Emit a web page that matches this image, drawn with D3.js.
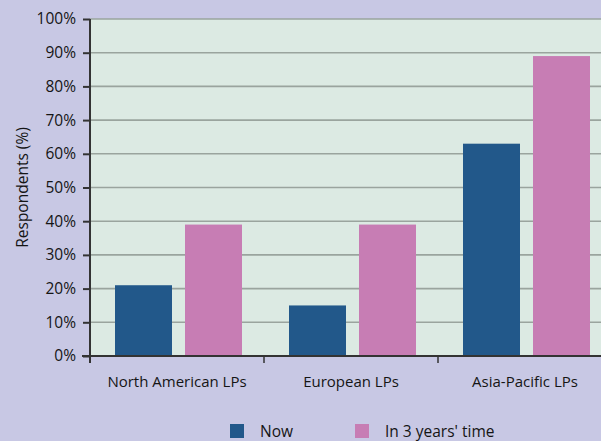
<!DOCTYPE html>
<html>
<head>
<meta charset="utf-8">
<script src="https://cdn.jsdelivr.net/npm/d3@7"></script>
<style>
  html, body { margin: 0; padding: 0; background: #C8C8E4; overflow: hidden; }
  svg { display: block; }
  text { font-family: "Open Sans", sans-serif; fill: #151515; }
</style>
</head>
<body>
<svg id="chart" width="601" height="441"></svg>
<script>
// Share of LPs, now and expected in three years
const categories = ["North American LPs", "European LPs", "Asia-Pacific LPs"];
const seriesNames = ["Now", "In 3 years' time"];
const nowValues = [21, 15, 63];
const futureValues = [39, 39, 89];
const yTicks = [0, 10, 20, 30, 40, 50, 60, 70, 80, 90, 100];
const colors = ["#22588A", "#C77DB4"];

const svg = d3.select("#chart");
const m = { left: 90, top: 19, bottom: 356, right: 612 };
const FONT = "'Open Sans', sans-serif";

const x = d3.scaleBand().domain(categories).range([m.left, m.right]);
// two bars per category, 57px wide with a 13px gap
const xs = d3.scaleBand().domain(seriesNames).range([25, 152]).paddingInner(13 / 70);
const y = d3.scaleLinear().domain([0, 100]).range([m.bottom, m.top]);

// plot background
svg.append("rect")
  .attr("x", m.left).attr("y", m.top)
  .attr("width", m.right - m.left).attr("height", m.bottom - m.top)
  .attr("fill", "#DCEAE3");

// horizontal gridlines
svg.append("g").selectAll("line")
  .data(yTicks.filter(d => d > 0))
  .join("line")
  .attr("x1", m.left).attr("x2", m.right)
  .attr("y1", d => y(d)).attr("y2", d => y(d))
  .attr("stroke", "#9AA49E").attr("stroke-width", 1.6);

// bars
const series = [nowValues, futureValues];
const groups = svg.append("g").selectAll("g")
  .data(categories)
  .join("g")
  .attr("transform", d => `translate(${x(d)},0)`);

groups.selectAll("rect")
  .data((c, i) => seriesNames.map((s, k) => ({ s, v: series[k][i], k })))
  .join("rect")
  .attr("x", d => xs(d.s))
  .attr("width", xs.bandwidth())
  .attr("y", d => y(d.v))
  .attr("height", d => y(0) - y(d.v))
  .attr("fill", d => colors[d.k]);

// y axis
const yAxis = d3.axisLeft(y)
  .tickValues(yTicks)
  .tickFormat(d => d + "%")
  .tickSize(7)
  .tickPadding(7);
const gy = svg.append("g").attr("transform", `translate(${m.left},0)`).call(yAxis);
gy.select(".domain").remove();
gy.selectAll(".tick line").attr("stroke", "#333").attr("stroke-width", 2);
gy.selectAll(".tick text").attr("font-size", 15.5).style("fill", "#151515")
  .style("font-family", FONT);
svg.append("line")
  .attr("x1", m.left).attr("x2", m.left)
  .attr("y1", m.top).attr("y2", m.bottom + 7)
  .attr("stroke", "#333").attr("stroke-width", 2);

// x axis
const xAxis = d3.axisBottom(x).tickSize(0).tickPadding(20);
const gx = svg.append("g").attr("transform", `translate(0,${m.bottom})`).call(xAxis);
gx.select(".domain").remove();
gx.selectAll(".tick text").attr("font-size", 15).style("fill", "#151515")
  .style("font-family", FONT);
svg.append("line")
  .attr("x1", m.left - 8).attr("x2", m.right)
  .attr("y1", m.bottom).attr("y2", m.bottom)
  .attr("stroke", "#333").attr("stroke-width", 2);
// category separators below the axis
svg.append("g").selectAll("line")
  .data(categories.slice(1))
  .join("line")
  .attr("x1", d => x(d)).attr("x2", d => x(d))
  .attr("y1", m.bottom).attr("y2", m.bottom + 7)
  .attr("stroke", "#333").attr("stroke-width", 1.5);

// y axis title
svg.append("text")
  .attr("transform", `translate(28,${(m.top + m.bottom) / 2}) rotate(-90)`)
  .attr("text-anchor", "middle")
  .attr("font-size", 15.5)
  .text("Respondents (%)");

// legend
const legendX = [230, 355];
const lg = svg.append("g").selectAll("g")
  .data(seriesNames)
  .join("g")
  .attr("transform", (d, i) => `translate(${legendX[i]},424)`);
lg.append("rect").attr("width", 14).attr("height", 14).attr("fill", (d, i) => colors[i]);
lg.append("text").attr("x", 30).attr("y", 12.5).attr("font-size", 15.5).text(d => d);
</script>
</body>
</html>
